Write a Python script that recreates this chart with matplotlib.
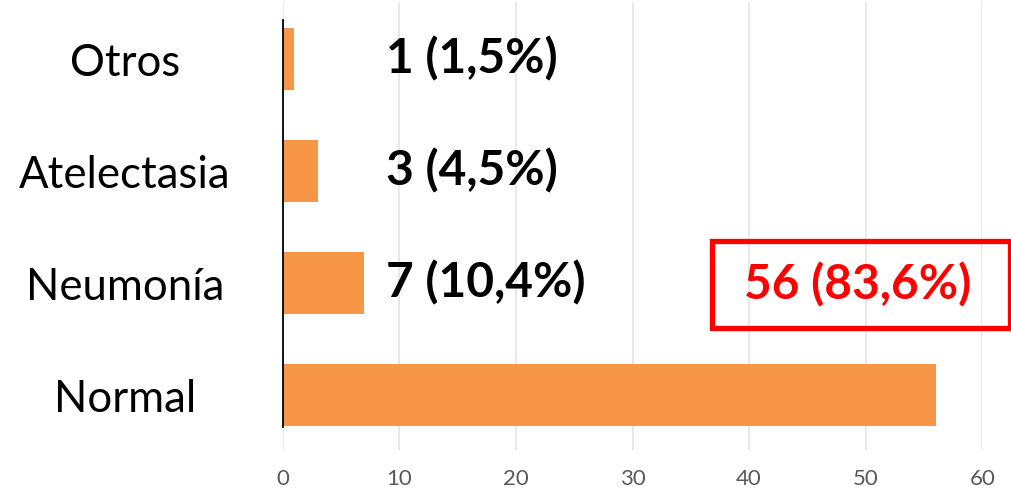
import matplotlib
matplotlib.use("Agg")
import matplotlib.pyplot as plt
from matplotlib.patches import Rectangle

categories = ["Normal", "Neumonía", "Atelectasia", "Otros"]
counts = [56, 7, 3, 1]
percents = [83.6, 10.4, 4.5, 1.5]
x_ticks = [0, 10, 20, 30, 40, 50, 60]

BAR = "#F79646"
FONT = "Lato"

W, H = 1012, 491
fig = plt.figure(figsize=(W / 100, H / 100), dpi=100)
ax_left, ax_right = 282.7 / W, 982.3 / W
ax_top, ax_bot = 1 - 2 / H, 1 - 450 / H
ax = fig.add_axes([ax_left, ax_bot, ax_right - ax_left, ax_top - ax_bot])

ypos = list(range(len(categories)))
ax.barh(ypos, counts, height=0.55, color=BAR, zorder=2)
ax.set_xlim(0, 60)
ax.set_ylim(-0.49, 3.51)
ax.set_xticks(x_ticks)
ax.set_xticklabels([str(t) for t in x_ticks], fontfamily=FONT, fontsize=16, color="#595959")
ax.tick_params(axis="x", length=0, pad=14)
ax.set_yticks([])
ax.grid(axis="x", color="#E8E8E8", linewidth=1.4, zorder=0)
for s in ["top", "right", "bottom"]:
    ax.spines[s].set_visible(False)
ax.spines["left"].set_color("black")
ax.spines["left"].set_linewidth(1.3)
ax.spines["left"].set_bounds(-0.285, 3.35)
ax.spines["left"].set_zorder(3)

# category labels centered at ~126 px
lab_x = 125 / W
for y, c in zip(ypos, categories):
    fy = ax.transData.transform((0, y - 0.04))[1] / H
    fig.text(lab_x, fy, c, ha="center", va="center", fontfamily=FONT, fontsize=31.5, color="black")

# value labels
for y, n, p in zip(ypos, counts, percents):
    txt = f"{n} ({str(p).replace('.', ',')}%)"
    if y == 0:
        ax.text(49.3, 0.983, txt, ha="center", va="center", fontfamily=FONT,
                fontsize=34.5, fontweight="bold", color="#FF0000", zorder=5, clip_on=False)
        ax.add_patch(Rectangle((36.8, 0.599), 62.4 - 36.8, 1.376 - 0.599, fill=False,
                               edgecolor="#FF0000", linewidth=3.8, clip_on=False, zorder=5))
    else:
        ax.text(8.9, y, txt, ha="left", va="center", fontfamily=FONT,
                fontsize=34.5, fontweight="bold", color="black", zorder=5)

fig.savefig("out.png", dpi=100)
